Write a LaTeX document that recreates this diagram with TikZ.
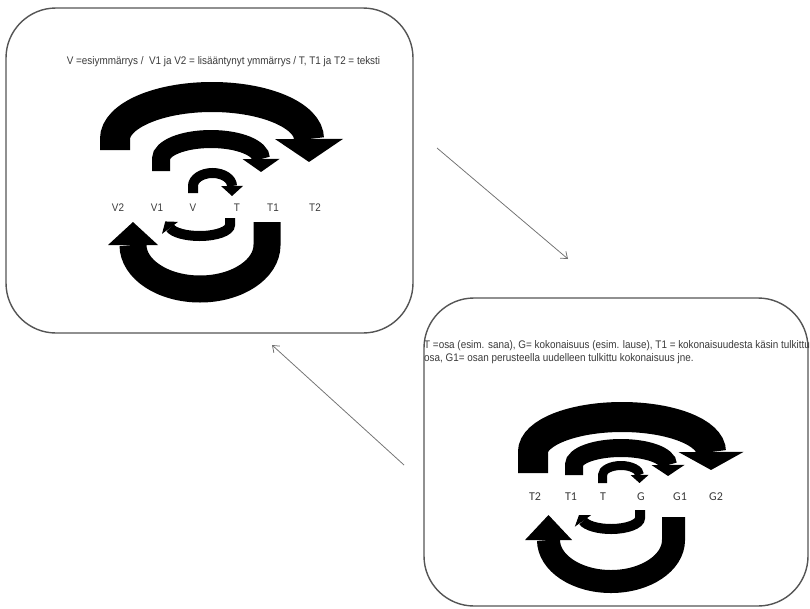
\documentclass[tikz,border=0pt]{standalone}
\usepackage{fontspec}
\usetikzlibrary{arrows.meta,decorations.markings}
\newfontfamily\capfont[FakeStretch=0.9]{Liberation Sans}
\newfontfamily\calfont{Carlito}
\definecolor{ink}{HTML}{3A3A3A}
\definecolor{frame}{HTML}{555555}
\definecolor{pointergray}{HTML}{707070}
\begin{document}
\begin{tikzpicture}[x=1pt,y=-1pt,
  panel/.style={draw=frame, line width=1.4pt, rounded corners=50pt, inner sep=0pt},
  caption/.style={font=\capfont\fontsize{11}{13}\selectfont, text=ink, inner sep=0pt},
  tagL/.style={font=\capfont\fontsize{11}{13}\selectfont, text=ink, inner sep=0pt},
  tagR/.style={font=\calfont\fontsize{12}{14}\selectfont, text=ink, inner sep=0pt},
  % thick curved band: #1 width, #2 half width of the head, #3 head length
  loopband/.style n args={3}{draw=black, line width=#1pt,
    postaction={decorate, decoration={markings,
      mark=at position 0.9999 with {\fill[black] (0,#2) -- (#3,0) -- (0,-#2) -- cycle;}}}},
  pointer/.style={draw=pointergray, line width=0.75pt, -{Straight Barb[length=6pt,width=9pt]}}
]
\fill[white] (0,0) rectangle (810,608);
\useasboundingbox (0,0) rectangle (810,608);

% the two panels
\node[panel, minimum width=407pt, minimum height=325pt] (leftpanel) at (209.5,170.5) {};
\node[panel, minimum width=384pt, minimum height=308pt] (rightpanel) at (616,452) {};

% captions
\node[caption] (legendL) at (223.5,62) {V =esiymmärrys /\ \ V1 ja V2 = lisääntynyt ymmärrys / T, T1 ja T2 = teksti};
\node[caption, anchor=north west, align=left] (legendR) at (424,340)
  {T =osa (esim. sana), G= kokonaisuus (esim. lause), T1 = kokonaisuudesta käsin tulkittu\\
   osa, G1= osan perusteella uudelleen tulkittu kokonaisuus jne.};

% left circle: understanding and text
\draw[loopband={30}{34}{23}] (115,150) -- (115,139) arc[start angle=180, end angle=360, x radius=97, y radius=42];
\draw[loopband={18}{18.5}{13}] (161,171) -- (161,159) arc[start angle=180, end angle=360, x radius=50, y radius=20];
\draw[loopband={10}{11}{10}] (193,193) -- (193,186) arc[start angle=180, end angle=360, x radius=19.5, y radius=13];
\draw[loopband={27}{25}{23}] (267,222) -- (267,245) arc[start angle=0, end angle=180, x radius=67, y radius=44];
\draw[loopband={10}{10}{8}] (230,218) -- (230,225) arc[start angle=0, end angle=165, x radius=30.5, y radius=11];

\node[tagL] (v2) at (118,208) {V2};
\node[tagL] (v1) at (157,208) {V1};
\node[tagL] (v0) at (193,208) {V};
\node[tagL] (t0) at (237,208) {T};
\node[tagL] (t1) at (273,208) {T1};
\node[tagL] (t2) at (315,208) {T2};

% right circle: part and whole
\draw[loopband={30}{32.5}{18}] (533,473) -- (533,452) arc[start angle=180, end angle=360, x radius=89, y radius=35];
\draw[loopband={18}{16.5}{11}] (574,475) -- (574,465) arc[start angle=180, end angle=360, x radius=47, y radius=17];
\draw[loopband={9}{9}{8}] (602.5,483) -- (602.5,475) arc[start angle=180, end angle=360, x radius=18.5, y radius=9.5];
\draw[loopband={23}{23.5}{25}] (673.5,517) -- (673.5,540) arc[start angle=0, end angle=180, x radius=62.5, y radius=41.5];
\draw[loopband={10}{10}{7}] (640,510) -- (640,518) arc[start angle=0, end angle=165, x radius=29, y radius=11];

\node[tagR] (rt2) at (535,497) {T2};
\node[tagR] (rt1) at (571,497) {T1};
\node[tagR] (rt0) at (603,497) {T};
\node[tagR] (rg0) at (641,497) {G};
\node[tagR] (rg1) at (680,497) {G1};
\node[tagR] (rg2) at (716,497) {G2};

% links between the panels
\coordinate (fromL) at (437,148);
\coordinate (toR) at (568,259);
\coordinate (fromR) at (404,465);
\coordinate (toL) at (272,345);
\draw[pointer] (fromL) -- (toR);
\draw[pointer] (fromR) -- (toL);
\end{tikzpicture}
\end{document}
